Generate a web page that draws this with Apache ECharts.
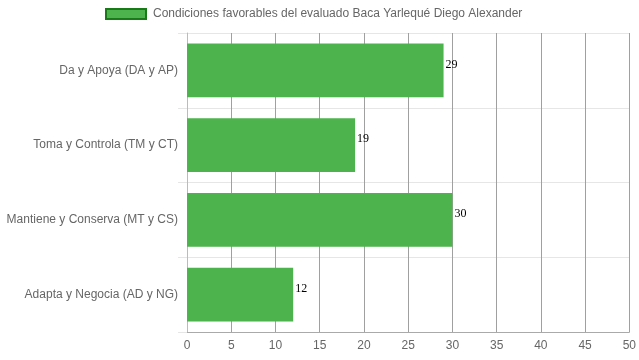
<!DOCTYPE html>
<html><head><meta charset="utf-8">
<script src="https://cdn.jsdelivr.net/npm/echarts@6/dist/echarts.min.js"></script>
<style>html,body{margin:0;padding:0;background:#fff}#c{width:639px;height:360px}</style>
</head><body><div id="c"></div>
<script>
const categories = ["Da y Apoya (DA y AP)", "Toma y Controla (TM y CT)", "Mantiene y Conserva (MT y CS)", "Adapta y Negocia (AD y NG)"];
const values = [29, 19, 30, 12];
const seriesName = "Condiciones favorables del evaluado Baca Yarlequé Diego Alexander";
const xTicks = [0, 5, 10, 15, 20, 25, 30, 35, 40, 45, 50];

const chart = echarts.init(document.getElementById('c'), null, {renderer: 'canvas'});
chart.setOption({
  animation: false,
  textStyle: {fontFamily: 'Liberation Sans, Arial, sans-serif'},
  legend: {
    left: 105, top: 8, padding: 0,
    itemWidth: 40, itemHeight: 10, itemGap: 10,
    icon: 'rect',
    textStyle: {fontSize: 12, color: '#666', padding: [0, 0, 0, 2]},
    data: [{name: seriesName, itemStyle: {color: '#4db34d', borderColor: '#1a7a1a', borderWidth: 2}}]
  },
  grid: {left: 187, right: 9, top: 33, bottom: 28, containLabel: false},
  xAxis: {
    type: 'value', min: xTicks[0], max: xTicks[xTicks.length - 1], interval: 5,
    axisLine: {show: true, lineStyle: {color: '#aaa'}},
    axisTick: {show: false},
    axisLabel: {color: '#666', fontSize: 12, margin: 8},
    splitLine: {show: true, lineStyle: {color: '#a0a0a0', width: 1}}
  },
  yAxis: {
    type: 'category', data: categories, inverse: true,
    axisLine: {show: true, lineStyle: {color: '#bbb'}},
    axisTick: {show: true, length: 9, lineStyle: {color: '#e6e6e6'}},
    axisLabel: {color: '#666', fontSize: 12, margin: 9},
    splitLine: {show: true, lineStyle: {color: '#e6e6e6'}}
  },
  series: [{
    name: seriesName, type: 'bar', data: values, barCategoryGap: '28%',
    itemStyle: {color: '#4db34d'},
    label: {show: true, position: 'right', distance: 2, offset: [0, -6], color: '#000', fontSize: 12, fontFamily: 'Liberation Serif, Times New Roman, serif'}
  }]
});
</script></body></html>
